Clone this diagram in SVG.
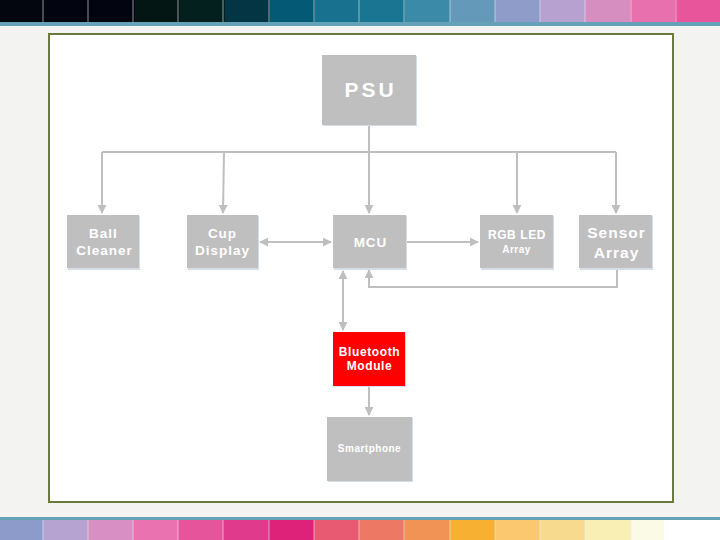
<svg xmlns="http://www.w3.org/2000/svg" width="720" height="540" viewBox="0 0 720 540">
<defs>
<style>
.box{fill:#bfbfbf}
.red{fill:#ff0000}
.shadow{fill:#d5dde6}
.t{font-family:"Liberation Sans",Arial,sans-serif;font-weight:bold;fill:#ffffff;text-anchor:middle}
.ln{fill:none;stroke:#bfbfbf;stroke-width:2}
.sep{stroke:#e8eef2;stroke-width:1;opacity:0.6}
</style>
<marker id="ah" viewBox="0 0 10 10" refX="9" refY="5" markerWidth="4.5" markerHeight="4.5" orient="auto-start-reverse" markerUnits="strokeWidth">
<path d="M0,0 L10,5 L0,10 Z" fill="#bfbfbf"/>
</marker>
</defs>
<rect x="0" y="0" width="720" height="540" fill="#f3f3f2"/>
<g id="top-bar">
<rect x="0" y="0" width="45" height="22" fill="#03050f"/>
<rect x="45" y="0" width="45" height="22" fill="#020510"/>
<rect x="90" y="0" width="45" height="22" fill="#02040f"/>
<rect x="135" y="0" width="45" height="22" fill="#041614"/>
<rect x="180" y="0" width="45" height="22" fill="#03201f"/>
<rect x="225" y="0" width="45" height="22" fill="#033545"/>
<rect x="270" y="0" width="45" height="22" fill="#045a75"/>
<rect x="315" y="0" width="45" height="22" fill="#17718f"/>
<rect x="360" y="0" width="45" height="22" fill="#1a7593"/>
<rect x="405" y="0" width="45" height="22" fill="#3a8aa8"/>
<rect x="450" y="0" width="45" height="22" fill="#6499b9"/>
<rect x="495" y="0" width="45" height="22" fill="#8f9bc9"/>
<rect x="540" y="0" width="45" height="22" fill="#b7a1d0"/>
<rect x="585" y="0" width="45" height="22" fill="#d68dc0"/>
<rect x="630" y="0" width="45" height="22" fill="#e870ae"/>
<rect x="675" y="0" width="45" height="22" fill="#e8559b"/>
<g class="sep">
<line x1="43" y1="0" x2="43" y2="22"/><line x1="88" y1="0" x2="88" y2="22"/><line x1="133" y1="0" x2="133" y2="22"/><line x1="178" y1="0" x2="178" y2="22"/><line x1="223" y1="0" x2="223" y2="22"/><line x1="269" y1="0" x2="269" y2="22"/><line x1="314" y1="0" x2="314" y2="22"/><line x1="359" y1="0" x2="359" y2="22"/><line x1="404" y1="0" x2="404" y2="22"/><line x1="450" y1="0" x2="450" y2="22"/><line x1="495" y1="0" x2="495" y2="22"/><line x1="540" y1="0" x2="540" y2="22"/><line x1="585" y1="0" x2="585" y2="22"/><line x1="631" y1="0" x2="631" y2="22"/><line x1="676" y1="0" x2="676" y2="22"/>
</g>
<rect x="0" y="22" width="720" height="4" fill="#64a2b8"/>
</g>
<g id="bottom-bar">
<rect x="0" y="517" width="720" height="3.5" fill="#64a2b8"/>
<rect x="0" y="520" width="720" height="20" fill="#ffffff"/>
<rect x="0" y="520" width="43" height="20" fill="#8c9bc9"/>
<rect x="43" y="520" width="45" height="20" fill="#b6a3d1"/>
<rect x="88" y="520" width="45" height="20" fill="#d88fc3"/>
<rect x="133" y="520" width="45" height="20" fill="#ea72b0"/>
<rect x="178" y="520" width="45" height="20" fill="#e6559c"/>
<rect x="223" y="520" width="46" height="20" fill="#e03a8c"/>
<rect x="269" y="520" width="45" height="20" fill="#de2279"/>
<rect x="314" y="520" width="45" height="20" fill="#e85a72"/>
<rect x="359" y="520" width="45" height="20" fill="#ed7863"/>
<rect x="404" y="520" width="46" height="20" fill="#f19354"/>
<rect x="450" y="520" width="45" height="20" fill="#f7b031"/>
<rect x="495" y="520" width="45" height="20" fill="#fbc870"/>
<rect x="540" y="520" width="45" height="20" fill="#f8da8e"/>
<rect x="585" y="520" width="46" height="20" fill="#f9eeb4"/>
<rect x="631" y="520" width="33" height="20" fill="#fafae6"/>
<g class="sep">
<line x1="43" y1="520" x2="43" y2="540"/><line x1="88" y1="520" x2="88" y2="540"/><line x1="133" y1="520" x2="133" y2="540"/><line x1="178" y1="520" x2="178" y2="540"/><line x1="223" y1="520" x2="223" y2="540"/><line x1="269" y1="520" x2="269" y2="540"/><line x1="314" y1="520" x2="314" y2="540"/><line x1="359" y1="520" x2="359" y2="540"/><line x1="404" y1="520" x2="404" y2="540"/><line x1="450" y1="520" x2="450" y2="540"/><line x1="495" y1="520" x2="495" y2="540"/><line x1="540" y1="520" x2="540" y2="540"/><line x1="585" y1="520" x2="585" y2="540"/><line x1="631" y1="520" x2="631" y2="540"/>
</g>
</g>
<rect id="frame" x="49" y="34" width="624" height="468" fill="#ffffff" stroke="#6b7b3b" stroke-width="2"/>
<g id="connectors">
<path class="ln" d="M369,125 V152"/>
<path class="ln" d="M102,152 H616"/>
<path class="ln" d="M102,152 V213" marker-end="url(#ah)"/>
<path class="ln" d="M224,152 L223,213" marker-end="url(#ah)"/>
<path class="ln" d="M369,152 V213" marker-end="url(#ah)"/>
<path class="ln" d="M517,152 V213" marker-end="url(#ah)"/>
<path class="ln" d="M616,152 V213" marker-end="url(#ah)"/>
<path class="ln" d="M260,242 H331" marker-start="url(#ah)" marker-end="url(#ah)"/>
<path class="ln" d="M406,242 H478" marker-end="url(#ah)"/>
<path class="ln" d="M617,269 V287 H369 V270" marker-end="url(#ah)"/>
<path class="ln" d="M343,271 V330" marker-start="url(#ah)" marker-end="url(#ah)"/>
<path class="ln" d="M369,386 V415" marker-end="url(#ah)"/>
</g>
<g id="psu">
<rect class="shadow" x="323" y="56" width="94" height="70"/>
<rect class="box" x="322" y="55" width="94" height="70"/>
<text class="t" x="370.5" y="97" font-size="21" letter-spacing="3">PSU</text>
</g>
<g id="ball-cleaner">
<rect class="shadow" x="68" y="216" width="72" height="54"/>
<rect class="box" x="67" y="215" width="72" height="53"/>
<text class="t" x="103.5" y="238" font-size="13.5" letter-spacing="1">Ball</text>
<text class="t" x="104.5" y="255" font-size="13.5" letter-spacing="1">Cleaner</text>
</g>
<g id="cup-display">
<rect class="shadow" x="188" y="216" width="71" height="54"/>
<rect class="box" x="187" y="215" width="71" height="53"/>
<text class="t" x="222.5" y="238" font-size="13.5" letter-spacing="1">Cup</text>
<text class="t" x="222.5" y="255" font-size="13.5" letter-spacing="1">Display</text>
</g>
<g id="mcu">
<rect class="shadow" x="334" y="216" width="73" height="54"/>
<rect class="box" x="333" y="215" width="73" height="53"/>
<text class="t" x="370.5" y="247" font-size="13.5" letter-spacing="1">MCU</text>
</g>
<g id="rgb-led-array">
<rect class="shadow" x="481" y="216" width="73" height="54"/>
<rect class="box" x="480" y="215" width="73" height="53"/>
<text class="t" x="517" y="239" font-size="12" letter-spacing="0.6">RGB LED</text>
<text class="t" x="516.5" y="253" font-size="10" letter-spacing="0.5">Array</text>
</g>
<g id="sensor-array">
<rect class="shadow" x="580" y="216" width="73" height="54"/>
<rect class="box" x="579" y="215" width="73" height="53"/>
<text class="t" x="616.5" y="238" font-size="15.5" letter-spacing="1">Sensor</text>
<text class="t" x="616.5" y="258" font-size="15.5" letter-spacing="1">Array</text>
</g>
<g id="bluetooth-module">
<rect class="shadow" x="334" y="333" width="72" height="54"/>
<rect class="red" x="333" y="332" width="72" height="54"/>
<text class="t" x="369.5" y="356" font-size="12" letter-spacing="0.6">Bluetooth</text>
<text class="t" x="369.5" y="370" font-size="12" letter-spacing="0.6">Module</text>
</g>
<g id="smartphone">
<rect class="shadow" x="328" y="418" width="85" height="64"/>
<rect class="box" x="327" y="417" width="85" height="64"/>
<text class="t" x="369.5" y="452" font-size="10" letter-spacing="0.5">Smartphone</text>
</g>
</svg>
